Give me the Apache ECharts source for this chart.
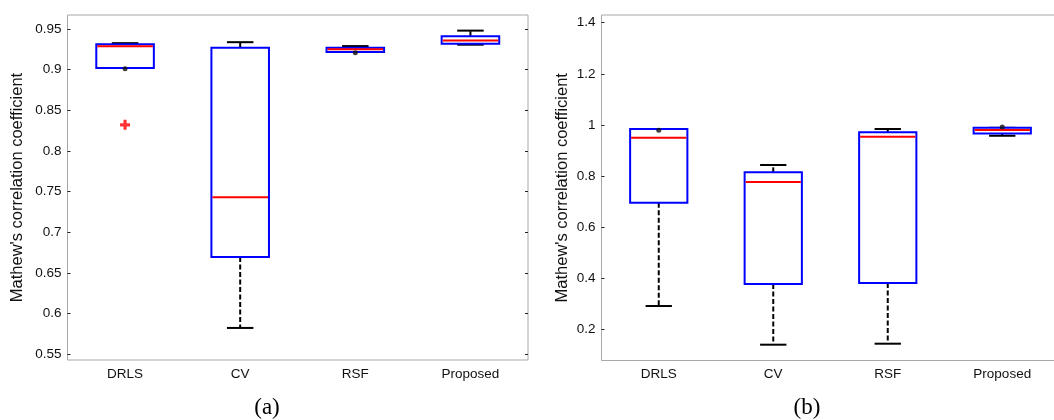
<!DOCTYPE html>
<html>
<head>
<meta charset="utf-8">
<script src="https://cdn.jsdelivr.net/npm/echarts@6/dist/echarts.min.js"></script>
<style>html,body{margin:0;padding:0;background:#fff;overflow:hidden;width:1054px;height:420px}#c{width:1064px;height:420px}</style>
</head>
<body>
<div id="c"></div>
<script>
// Categories
const categories = ['DRLS', 'CV', 'RSF', 'Proposed'];

// Panel (a) box statistics
const aLow    = [0.9020, 0.5824, 0.9215, 0.9305];
const aQ1     = [0.9020, 0.6697, 0.9215, 0.9318];
const aMedian = [0.9287, 0.7430, 0.9250, 0.9358];
const aQ3     = [0.9311, 0.9266, 0.9268, 0.9410];
const aHigh   = [0.9324, 0.9336, 0.9288, 0.9478];
const aOutliers = [[0, 0.832]];
const aDots = [[0, 0.9008], [2, 0.9205]];
const aTicks = [0.55, 0.6, 0.65, 0.7, 0.75, 0.8, 0.85, 0.9, 0.95];

// Panel (b) box statistics
const bLow    = [0.2925, 0.1414, 0.1453, 0.9580];
const bQ1     = [0.6964, 0.3785, 0.3824, 0.9670];
const bMedian = [0.9505, 0.7772, 0.9544, 0.9805];
const bQ3     = [0.9844, 0.8150, 0.9713, 0.9890];
const bHigh   = [0.9844, 0.8437, 0.9844, 0.9890];
const bOutliers = [];
const bDots = [[0, 0.980], [3, 0.992]];
const bTicks = [0.2, 0.4, 0.6, 0.8, 1, 1.2, 1.4];

const yName = "Mathew's correlation coefficient";

function boxData(low, q1, med, q3, high) {
  return categories.map((c, i) => [i, low[i], q1[i], med[i], q3[i], high[i]]);
}

function renderBox(params, api) {
  const i = api.value(0);
  const band = api.size([1, 0])[0];
  const x = api.coord([i, 0])[0];
  const yLow = api.coord([i, api.value(1)])[1];
  const yQ1 = api.coord([i, api.value(2)])[1];
  const yMed = api.coord([i, api.value(3)])[1];
  const yQ3 = api.coord([i, api.value(4)])[1];
  const yHigh = api.coord([i, api.value(5)])[1];
  const boxW = band * 0.5;
  const capW = band * 0.23;
  const dash = {stroke: '#000', lineWidth: 2, lineDash: [5, 2.5]};
  const solid = {stroke: '#000', lineWidth: 2};
  return {
    type: 'group',
    children: [
      {type: 'line', shape: {x1: x, y1: yQ3, x2: x, y2: yHigh}, style: dash},
      {type: 'line', shape: {x1: x, y1: yQ1, x2: x, y2: yLow}, style: dash},
      {type: 'line', shape: {x1: x - capW / 2, y1: yHigh, x2: x + capW / 2, y2: yHigh}, style: solid},
      {type: 'line', shape: {x1: x - capW / 2, y1: yLow, x2: x + capW / 2, y2: yLow}, style: solid},
      {type: 'rect', shape: {x: x - boxW / 2, y: yQ3, width: boxW, height: yQ1 - yQ3},
        style: {fill: '#fff', stroke: '#0000ff', lineWidth: 2}},
      {type: 'line', shape: {x1: x - boxW / 2 + 1, y1: yMed, x2: x + boxW / 2 - 1, y2: yMed},
        style: {stroke: '#ff0000', lineWidth: 2}}
    ]
  };
}

const font = "'Liberation Sans', Arial, sans-serif";
const plusPath = 'path://M3.4,0H6.6V3.4H10V6.6H6.6V10H3.4V6.6H0V3.4H3.4Z';

function yAxes(gridIndex, min, max, ticks, nameGap) {
  return [
    {
      type: 'value', gridIndex, min, max, position: 'left',
      name: yName, nameLocation: 'middle', nameRotate: 90, nameGap,
      nameTextStyle: {fontFamily: font, fontSize: 16.5, color: '#111'},
      axisLine: {show: false},
      splitLine: {show: false},
      axisTick: {show: true, inside: true, length: 3, customValues: ticks, lineStyle: {color: '#222', width: 1}},
      axisLabel: {customValues: ticks, margin: 6, fontFamily: font, fontSize: 13.5, color: '#111',
        formatter: v => String(+v.toFixed(2))}
    },
    {
      type: 'value', gridIndex, min, max, position: 'right',
      axisLine: {show: false},
      splitLine: {show: false},
      axisTick: {show: true, inside: true, length: 3, customValues: ticks, lineStyle: {color: '#222', width: 1}},
      axisLabel: {show: false}
    }
  ];
}

function xAxis(gridIndex) {
  return {
    type: 'category', gridIndex, data: categories, boundaryGap: true,
    axisLine: {show: false}, axisTick: {show: false}, splitLine: {show: false},
    axisLabel: {margin: 7, fontFamily: font, fontSize: 13.5, color: '#111'}
  };
}

const option = {
  backgroundColor: '#fff',
  animation: false,
  grid: [
    {left: 67.5, top: 15, width: 460.5, height: 345, show: true, borderColor: '#a8a8a8', borderWidth: 1, backgroundColor: '#fff'},
    {left: 601.5, top: 15, width: 458, height: 345.5, show: true, borderColor: '#a8a8a8', borderWidth: 1, backgroundColor: '#fff'}
  ],
  xAxis: [xAxis(0), xAxis(1)],
  yAxis: [...yAxes(0, 0.543, 0.967, aTicks, 42), ...yAxes(1, 0.0796, 1.430, bTicks, 31)],
  series: [
    {type: 'custom', xAxisIndex: 0, yAxisIndex: 0, renderItem: renderBox,
      encode: {x: 0, y: [1, 2, 3, 4, 5]}, data: boxData(aLow, aQ1, aMedian, aQ3, aHigh), clip: false},
    {type: 'custom', xAxisIndex: 1, yAxisIndex: 2, renderItem: renderBox,
      encode: {x: 0, y: [1, 2, 3, 4, 5]}, data: boxData(bLow, bQ1, bMedian, bQ3, bHigh), clip: false},
    {type: 'scatter', xAxisIndex: 0, yAxisIndex: 0, data: aOutliers, symbol: plusPath, symbolSize: 10,
      itemStyle: {color: '#ff0000'}, silent: true},
    {type: 'scatter', xAxisIndex: 1, yAxisIndex: 2, data: bOutliers, symbol: plusPath, symbolSize: 10,
      itemStyle: {color: '#ff0000'}, silent: true},
    {type: 'scatter', xAxisIndex: 0, yAxisIndex: 0, data: aDots, symbol: 'circle', symbolSize: 5,
      itemStyle: {color: '#111'}, silent: true, z: 5},
    {type: 'scatter', xAxisIndex: 1, yAxisIndex: 2, data: bDots, symbol: 'circle', symbolSize: 5,
      itemStyle: {color: '#111'}, silent: true, z: 5}
  ],
  graphic: [
    {type: 'text', x: 267, y: 408, style: {text: '(a)', align: 'center', verticalAlign: 'middle',
      font: "23px 'Liberation Serif', 'Times New Roman', serif", fill: '#000'}},
    {type: 'text', x: 807, y: 408, style: {text: '(b)', align: 'center', verticalAlign: 'middle',
      font: "23px 'Liberation Serif', 'Times New Roman', serif", fill: '#000'}}
  ]
};

const chart = echarts.init(document.getElementById('c'), null, {renderer: 'canvas'});
chart.setOption(option);
</script>
</body>
</html>
